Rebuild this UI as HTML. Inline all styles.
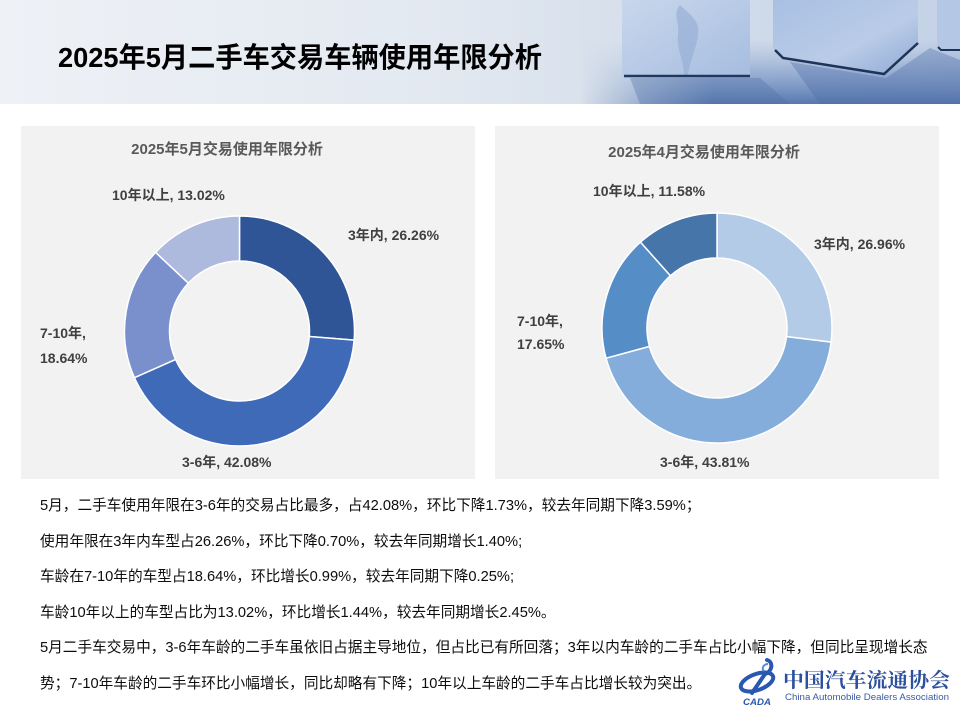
<!DOCTYPE html>
<html>
<head>
<meta charset="utf-8">
<style>
  html, body { margin:0; padding:0; }
  body { width:960px; height:720px; position:relative; overflow:hidden; background:#ffffff;
         font-family:"Liberation Sans","Noto Sans CJK SC",sans-serif; }
  .line { position:absolute; left:40px; white-space:nowrap; font-size:14.67px; line-height:20px; color:#0d0d0d; }
</style>
</head>
<body>
<svg width="960" height="720" viewBox="0 0 960 720" style="position:absolute;left:0;top:0">
  <defs>
    <linearGradient id="hbg" x1="0" y1="0" x2="1" y2="0">
      <stop offset="0" stop-color="#eef1f6"/>
      <stop offset="0.45" stop-color="#e3e9f1"/>
      <stop offset="0.66" stop-color="#d6dfeb"/>
      <stop offset="1" stop-color="#c4d2e7"/>
    </linearGradient>
    <linearGradient id="floorV" x1="0" y1="0" x2="0" y2="1">
      <stop offset="0" stop-color="#8fa9d2" stop-opacity="0"/>
      <stop offset="0.5" stop-color="#7895c6" stop-opacity="0.6"/>
      <stop offset="1" stop-color="#5677ae" stop-opacity="1"/>
    </linearGradient>
    <linearGradient id="fadeH" x1="0" y1="0" x2="1" y2="0">
      <stop offset="0" stop-color="#fff" stop-opacity="0"/>
      <stop offset="0.35" stop-color="#fff" stop-opacity="1"/>
      <stop offset="1" stop-color="#fff" stop-opacity="1"/>
    </linearGradient>
    <mask id="floorMask"><rect x="580" y="40" width="380" height="64" fill="url(#fadeH)"/></mask>
    <linearGradient id="c1" x1="0" y1="0" x2="1" y2="1">
      <stop offset="0" stop-color="#c9d7ec"/>
      <stop offset="1" stop-color="#a6bde0"/>
    </linearGradient>
    <linearGradient id="c2" x1="0" y1="0" x2="1" y2="1">
      <stop offset="0" stop-color="#a9c0e3"/>
      <stop offset="0.6" stop-color="#b9cbe7"/>
      <stop offset="1" stop-color="#8eaad6"/>
    </linearGradient>
  </defs>

  <!-- header band -->
  <rect x="0" y="0" width="960" height="104" fill="url(#hbg)"/>
  <rect x="580" y="40" width="380" height="64" fill="url(#floorV)" mask="url(#floorMask)"/>
  <!-- cube shadows -->
  <path d="M630,78 L760,78 L790,104 L640,104 Z" fill="#4f6fa6" opacity="0.35"/>
  <path d="M790,62 L886,78 L930,48 L960,60 L960,104 L820,104 Z" fill="#4a6aa2" opacity="0.35"/>
  <!-- cube 1 -->
  <rect x="622" y="-2" width="128" height="78" fill="url(#c1)"/>
  <path d="M680,5 C690,15 700,20 698,35 C696,50 690,60 688,75 L684,75 C684,60 676,48 678,35 C680,22 672,15 680,5 Z" fill="#93acd4" opacity="0.6"/>
  <line x1="624" y1="76" x2="750" y2="76" stroke="#22375c" stroke-width="2.5"/>
  <!-- cube 2 -->
  <path d="M773,-2 L918,-2 L918,42 L884,74 L782,58 L773,48 Z" fill="url(#c2)"/>
  <path d="M775,50 L783,58 L884,74 L918,43" fill="none" stroke="#1e3358" stroke-width="2.5"/>
  <!-- cube 3 -->
  <path d="M937,-2 L960,-2 L960,50 L941,50 L937,46 Z" fill="#b4c7e5"/>
  <path d="M938,47 L941,50 L960,50" fill="none" stroke="#1e3358" stroke-width="2"/>

  <!-- title -->
  <text x="58" y="67" font-family="Liberation Sans, Noto Sans CJK SC, sans-serif" font-weight="bold" font-size="28" fill="#000" textLength="484" lengthAdjust="spacingAndGlyphs">2025年5月二手车交易车辆使用年限分析</text>

  <!-- panels -->
  <rect x="21" y="126" width="454" height="353" fill="#f2f2f2"/>
  <rect x="495" y="126" width="444" height="353" fill="#f2f2f2"/>

  <!-- left donut -->
  <g stroke="#ffffff" stroke-width="1.5" stroke-linejoin="round">
    <path d="M239.5,216 A115,115 0 0 1 354.14,340.09 L309.28,336.54 A70,70 0 0 0 239.5,261 Z" fill="#2f5597"/>
    <path d="M354.14,340.09 A115,115 0 0 1 134.42,377.73 L175.54,359.44 A70,70 0 0 0 309.28,336.54 Z" fill="#3f6ab8"/>
    <path d="M134.42,377.73 A115,115 0 0 1 155.57,252.38 L188.41,283.15 A70,70 0 0 0 175.54,359.44 Z" fill="#7a90cd"/>
    <path d="M155.57,252.38 A115,115 0 0 1 239.5,216 L239.5,261 A70,70 0 0 0 188.41,283.15 Z" fill="#aebadd"/>
  </g>

  <!-- right donut -->
  <g stroke="#ffffff" stroke-width="1.5" stroke-linejoin="round">
    <path d="M717,213 A115,115 0 0 1 831.13,342.13 L786.47,336.60 A70,70 0 0 0 717,258 Z" fill="#b4cbe8"/>
    <path d="M831.13,342.13 A115,115 0 0 1 606.04,358.20 L649.46,346.39 A70,70 0 0 0 786.47,336.60 Z" fill="#84addb"/>
    <path d="M606.04,358.20 A115,115 0 0 1 640.51,242.12 L670.44,275.73 A70,70 0 0 0 649.46,346.39 Z" fill="#558ec7"/>
    <path d="M640.51,242.12 A115,115 0 0 1 717,213 L717,258 A70,70 0 0 0 670.44,275.73 Z" fill="#4675a9"/>
  </g>

  <!-- chart labels -->
  <g font-family="Liberation Sans, Noto Sans CJK SC, sans-serif" font-weight="bold">
    <text x="227" y="154" font-size="15" fill="#595959" text-anchor="middle">2025年5月交易使用年限分析</text>
    <g font-size="14" fill="#404040">
      <text x="112" y="200">10年以上, 13.02%</text>
      <text x="348" y="240">3年内, 26.26%</text>
      <text x="40" y="338">7-10年,</text>
      <text x="40" y="363">18.64%</text>
      <text x="182" y="467">3-6年, 42.08%</text>
    </g>
    <text x="704" y="157" font-size="15" fill="#595959" text-anchor="middle">2025年4月交易使用年限分析</text>
    <g font-size="14" fill="#404040">
      <text x="593" y="196">10年以上, 11.58%</text>
      <text x="814" y="249">3年内, 26.96%</text>
      <text x="517" y="326">7-10年,</text>
      <text x="517" y="349">17.65%</text>
      <text x="660" y="467">3-6年, 43.81%</text>
    </g>
  </g>

  <!-- logo -->
  <g>
    <ellipse cx="757" cy="682" rx="17" ry="8" transform="rotate(-20 757 682)" fill="none" stroke="#2a58b0" stroke-width="4"/>
    <path d="M767,660 C774,662 772,672 765,674 L752,693" fill="none" stroke="#2a58b0" stroke-width="4" stroke-linecap="round"/>
    <path d="M768,664 C764,664 761,668 764,671" fill="none" stroke="#5b8be0" stroke-width="2"/>
    <text x="743" y="705" font-family="Liberation Sans, sans-serif" font-weight="bold" font-style="italic" font-size="9" fill="#2a58b0" textLength="28" lengthAdjust="spacingAndGlyphs">CADA</text>
    <text x="783" y="687" font-family="Liberation Serif, Noto Serif CJK SC, serif" font-weight="bold" font-size="20" fill="#2c4f9e" textLength="167" lengthAdjust="spacingAndGlyphs">中国汽车流通协会</text>
    <text x="785" y="700" font-family="Liberation Sans, sans-serif" font-size="9.5" fill="#3b5aa6" textLength="164" lengthAdjust="spacingAndGlyphs">China Automobile Dealers Association</text>
  </g>
</svg>

<div class="line" style="top:496px">5月，二手车使用年限在3-6年的交易占比最多，占42.08%，环比下降1.73%，较去年同期下降3.59%；</div>
<div class="line" style="top:532px">使用年限在3年内车型占26.26%，环比下降0.70%，较去年同期增长1.40%;</div>
<div class="line" style="top:567px">车龄在7-10年的车型占18.64%，环比增长0.99%，较去年同期下降0.25%;</div>
<div class="line" style="top:603px">车龄10年以上的车型占比为13.02%，环比增长1.44%，较去年同期增长2.45%。</div>
<div class="line" style="top:638px">5月二手车交易中，3-6年车龄的二手车虽依旧占据主导地位，但占比已有所回落；3年以内车龄的二手车占比小幅下降，但同比呈现增长态</div>
<div class="line" style="top:674px">势；7-10年车龄的二手车环比小幅增长，同比却略有下降；10年以上车龄的二手车占比增长较为突出。</div>
</body>
</html>
